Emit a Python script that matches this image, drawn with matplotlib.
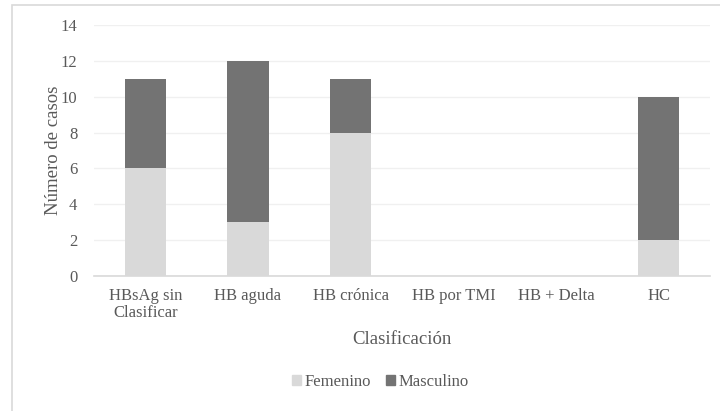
import numpy as np
import matplotlib.pyplot as plt
from matplotlib.patches import Rectangle
from matplotlib.patches import Patch

categories = ["HBsAg sin\nClasificar", "HB aguda", "HB crónica", "HB por TMI", "HB + Delta", "HC"]
femenino = [6, 3, 8, 0, 0, 2]
masculino = [5, 9, 3, 0, 0, 8]

plt.rcParams['font.family'] = ['Liberation Serif', 'DejaVu Serif']

light = '#d9d9d9'
dark = '#737373'
txt = '#595959'

fig = plt.figure(figsize=(7.2, 4.11), dpi=100)
# outer chart frame (cropped on the right/bottom in the original)
fig.patches.append(Rectangle((12 / 720, -0.1), 1.0, 1 - 5 / 411 + 0.1,
                             transform=fig.transFigure, fill=False,
                             edgecolor='#d9d9d9', linewidth=1.2))

ax = fig.add_axes([94 / 720, 1 - 276 / 411, 616 / 720, 251 / 411])
x = np.arange(len(categories))
ax.bar(x, femenino, width=0.4, color=light, zorder=3, label='Femenino')
ax.bar(x, masculino, width=0.4, bottom=femenino, color=dark, zorder=3, label='Masculino')

ax.set_xlim(-0.5, len(categories) - 0.5)
ax.set_ylim(0, 14)
ax.set_yticks(range(0, 15, 2))
ax.grid(axis='y', color='#f0f0f0', linewidth=1, zorder=0)
for s in ['top', 'right', 'left']:
    ax.spines[s].set_visible(False)
ax.spines['bottom'].set_color('#d9d9d9')
ax.spines['bottom'].set_linewidth(1.2)
ax.tick_params(length=0, labelsize=12, colors=txt)
ax.tick_params(axis='x', pad=9)
ax.tick_params(axis='y', pad=12)
ax.set_xticks(x)
ax.set_xticklabels(categories, linespacing=1.05)

ax.set_ylabel('Número de casos', fontsize=13.5, color=txt, labelpad=-1)
ax.set_xlabel('Clasificación', fontsize=13.5, color=txt, labelpad=7)

handles = [Patch(color=light), Patch(color=dark)]
fig.legend(handles, ['Femenino', 'Masculino'], loc='center', bbox_to_anchor=(380 / 720, 1 - 382 / 411),
           ncol=2, frameon=False, fontsize=12, handlelength=0.55, handleheight=0.55,
           handletextpad=0.2, columnspacing=0.9, labelcolor=txt)

fig.savefig('out.png', dpi=100)
